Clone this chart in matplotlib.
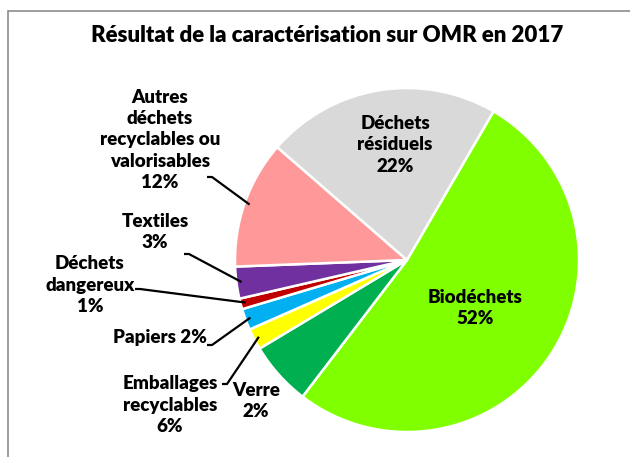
import numpy as np
import matplotlib
matplotlib.use("Agg")
import matplotlib.pyplot as plt
from matplotlib.patches import Rectangle

# data, clockwise from the top-right
categories = [
    "Biodéchets",
    "Emballages\nrecyclables",
    "Verre",
    "Papiers",
    "Déchets\ndangereux",
    "Textiles",
    "Autres\ndéchets\nrecyclables ou\nvalorisables",
    "Déchets\nrésiduels",
]
values = [52, 6, 2, 2, 1, 3, 12, 22]
colors = ["#80FF00", "#00B050", "#FFFF00", "#00B0F0",
          "#C00000", "#7030A0", "#FF9999", "#D9D9D9"]
title = "Résultat de la caractérisation sur OMR en 2017"

W, H = 630, 457
plt.rcParams["font.family"] = ["Lato", "DejaVu Sans"]

fig = plt.figure(figsize=(W / 100, H / 100), dpi=100)
ax = fig.add_axes([0, 0, 1, 1])

cx, cy, r = 407, H - 260, 172
wedges, _ = ax.pie(
    values,
    colors=colors,
    startangle=59.8,
    counterclock=False,
    center=(cx, cy),
    radius=r,
    wedgeprops=dict(edgecolor="white", linewidth=1.8),
)
ax.set_xlim(0, W)
ax.set_ylim(0, H)
ax.set_aspect("equal")
ax.axis("off")

# chart border (cut off at right and bottom like the source)
fig.patches.append(Rectangle((8 / W, -0.1), 1.2, 1 - 11 / H + 0.1,
                             transform=fig.transFigure, fill=False,
                             edgecolor="#8c8c8c", linewidth=1.2))

ax.text(327, H - 35, title, ha="center", va="center",
        fontsize=16, fontweight="heavy")

fs = 13.5
lbl = dict(ha="center", va="center", fontsize=fs, fontweight="heavy",
           linespacing=1.3)


def pct(v):
    return f"{v}%"


# labels inside the pie
ax.text(395, H - 145, f"{categories[7]}\n{pct(values[7])}", **lbl)
ax.text(475, H - 308, f"{categories[0]}\n{pct(values[0])}", **lbl)

# outside labels: (slice index, text centre, leader start)
outside = [
    (6, (160, 140), (207, 177), f"{categories[6]}\n{pct(values[6])}"),
    (5, (155, 232), (184, 254), f"{categories[5]}\n{pct(values[5])}"),
    (4, (90, 285), (135, 289), f"{categories[4]}\n{pct(values[4])}"),
    (3, (160, 338), (207, 345), f"{categories[3]} {pct(values[3])}"),
    (2, None, (222, 384), None),
]
for i, pos, start, txt in outside:
    if pos is not None:
        ax.text(pos[0], H - pos[1], txt, **lbl)

# Emballages label (its leader goes to the yellow slice as in the source)
ax.text(170, H - 405, f"{categories[1]}\n{pct(values[1])}", **lbl)
ax.text(256, H - 401, f"{categories[2]}\n{pct(values[2])}", **lbl)

for i, pos, start, txt in outside:
    w = wedges[i]
    mid = np.deg2rad((w.theta1 + w.theta2) / 2)
    ex = cx + 0.97 * r * np.cos(mid)
    ey = cy + 0.97 * r * np.sin(mid)
    sx, sy = start[0], H - start[1]
    ax.plot([sx, sx + 5, ex], [sy, sy, ey], color="black", linewidth=1.6,
            solid_capstyle="butt")

fig.savefig("out.png", dpi=100, facecolor="white")
